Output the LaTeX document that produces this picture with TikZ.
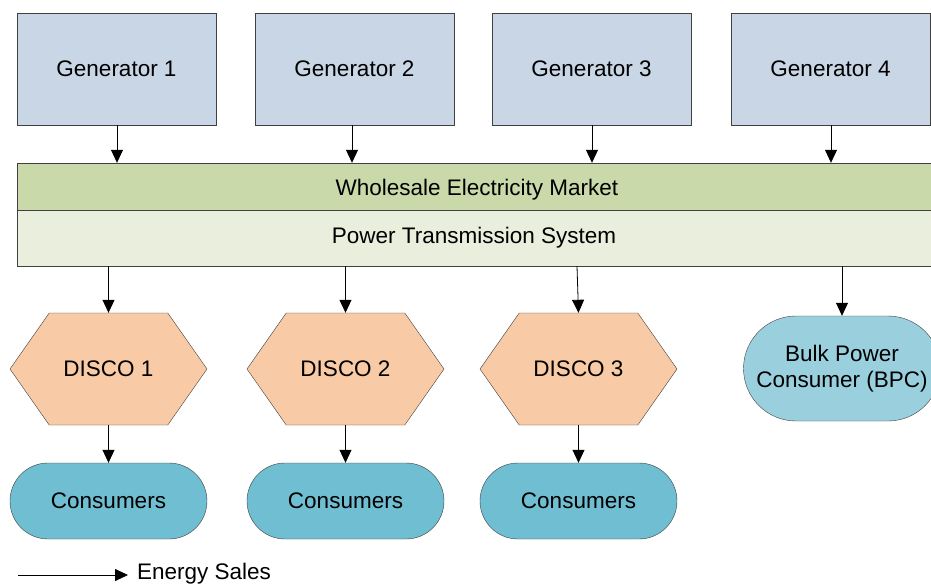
\documentclass[tikz,border=0pt]{standalone}
\usepackage{fontspec}
\setmainfont{Liberation Sans}
\usetikzlibrary{shapes.misc,shapes.symbols,arrows.meta}
\definecolor{genfill}{HTML}{C9D6E6}
\definecolor{mktfill}{HTML}{C9D9AA}
\definecolor{trfill}{HTML}{EAEEDD}
\definecolor{discofill}{HTML}{F8CBA6}
\definecolor{consfill}{HTML}{70BED2}
\definecolor{bpcfill}{HTML}{9AD0DE}
\definecolor{edge}{HTML}{404040}
\begin{document}
\begin{tikzpicture}[x=1pt,y=-1pt,
  every node/.style={font=\fontsize{22.5}{26}\selectfont, inner sep=0pt},
  genbox/.style={draw=edge, fill=genfill, minimum width=199pt, minimum height=112pt},
  bar/.style={draw=edge, minimum width=914pt},
  disco/.style={signal, signal to=east and west, signal pointer angle=110, draw=edge, fill=discofill, minimum width=197pt, minimum height=112pt},
  cons/.style={rounded rectangle, draw=edge, fill=consfill, minimum width=197pt, minimum height=76pt},
  flow/.style={-{Triangle[width=12pt,length=13pt]}, black, line width=0.8pt}
]
\useasboundingbox (0,0) rectangle (931,586);
\node[genbox] (g1) at (116.5,69) {Generator 1};
\node[genbox] (g2) at (354.5,69) {Generator 2};
\node[genbox] (g3) at (591.5,69) {Generator 3};
\node[genbox] (g4) at (830.5,69) {Generator 4};
\node[bar, fill=mktfill, minimum height=47pt] (mkt) at (474,186.5) {};
\node (mkttext) at (477,190) {Wholesale Electricity Market};
\node[bar, fill=trfill, minimum height=56pt] (tr) at (474,238) {Power Transmission System};
\node[disco] (d1) at (108.5,369) {DISCO 1};
\node[disco] (d2) at (345.5,369) {DISCO 2};
\node[disco] (d3) at (578.5,369) {DISCO 3};
\node[cons] (c1) at (108.5,501) {Consumers};
\node[cons] (c2) at (345.5,501) {Consumers};
\node[cons] (c3) at (578.5,501) {Consumers};
\node[rounded rectangle, draw=edge, fill=bpcfill, minimum width=197pt, minimum height=105pt, align=center] (bpc) at (842,368.5) {Bulk Power\\Consumer (BPC)};
\draw[flow] (g1.south -| 117,0) -- (mkt.north -| 117,0);
\draw[flow] (g2.south -| 352,0) -- (mkt.north -| 352,0);
\draw[flow] (g3.south -| 592,0) -- (mkt.north -| 592,0);
\draw[flow] (g4.south -| 831,0) -- (mkt.north -| 831,0);
\draw[flow] (tr.south -| d1.north) -- (d1.north);
\draw[flow] (tr.south -| d2.north) -- (d2.north);
\draw[flow] (tr.south -| 577,0) -- (d3.north);
\draw[flow] (tr.south -| bpc.north) -- (bpc.north);
\draw[flow] (d1.south) -- (c1.north);
\draw[flow] (d2.south) -- (c2.north);
\draw[flow] (d3.south) -- (c3.north);
\coordinate (la) at (18,575);
\coordinate (lb) at (128,575);
\draw[flow] (la) -- (lb);
\node[anchor=west] (leg) at (137,574) {Energy Sales};
\end{tikzpicture}
\end{document}
